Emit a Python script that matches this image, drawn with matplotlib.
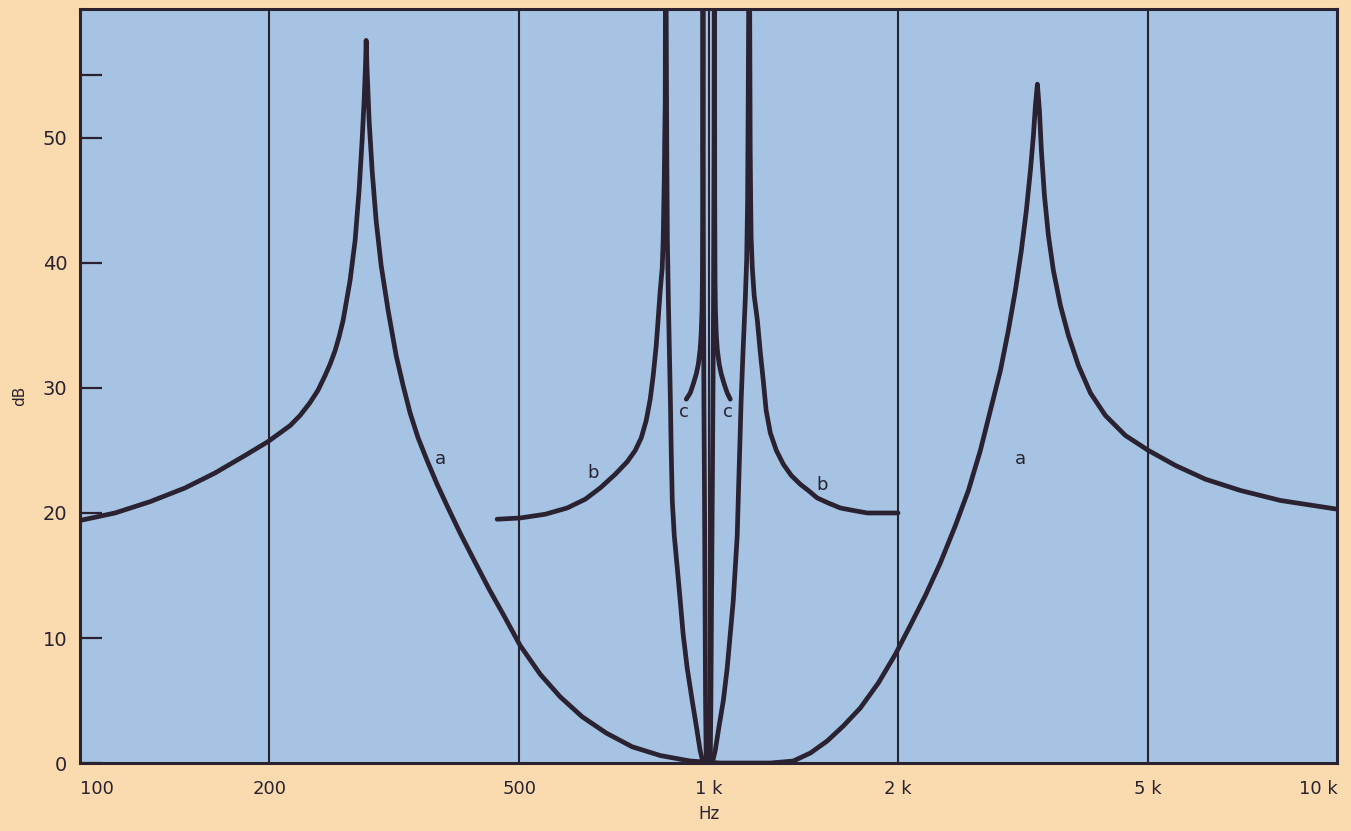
import matplotlib
matplotlib.use("Agg")
import matplotlib.pyplot as plt

# values (frequency in Hz, attenuation in dB)
# curve a : wide band, peaks near 285 Hz and 3.3 kHz
a_freq = [100, 113.7, 129.2, 146.9, 164, 183, 199, 216, 223.9, 232, 239, 245.4,
          249.9, 254.6, 258.3, 262.1, 268.9, 273.9, 277.9, 281, 283.1, 284.7, 285.2,
          286.2, 288.3, 291.5, 295.8, 301.3, 309.1, 318.3, 326.5, 335, 345,
          356.5, 369.8, 385, 402.3, 423.6, 447.5, 474.6, 501.3, 539.5, 580.3,
          629.1, 687, 755.5, 837.2, 934.5, 1043, 1150, 1253,
          1363, 1451, 1543, 1637, 1742, 1861, 1981, 2092, 2211, 2335, 2468, 2588,
          2704, 2805, 2910, 2996, 3074, 3142, 3200, 3248, 3284, 3308, 3332,
          3357, 3381, 3419, 3469, 3533, 3625, 3733, 3872, 4046, 4274, 4599, 5004,
          5525, 6166, 7010, 8115, 10000]
a_db = [19.4, 20.0, 20.9, 22.0, 23.2, 24.6, 25.7, 27.0, 27.8, 28.8, 29.8, 31.0,
        31.9, 33.0, 34.1, 35.4, 38.6, 41.8, 45.8, 49.8, 53.0, 56.2, 57.8,
        55.4, 51.4, 47.4, 43.4, 39.8, 36.2, 32.6, 30.2, 28.0, 26.0,
        24.2, 22.3, 20.4, 18.4, 16.2, 13.9, 11.6, 9.4, 7.1, 5.3,
        3.7, 2.4, 1.3, 0.6, 0.16, 0.0, 0.0, 0.0,
        0.16, 0.8, 1.76, 2.96, 4.4, 6.4, 8.7, 11.0, 13.4, 16.0, 19.0, 21.8,
        25.0, 28.2, 31.4, 34.6, 37.8, 41.0, 44.2, 47.4, 50.2, 52.6, 54.3,
        52.2, 49.0, 45.4, 42.2, 39.4, 36.6, 34.2, 31.8, 29.6, 27.8, 26.2, 25.0,
        23.8, 22.7, 21.8, 21.0, 20.3]

# curve b : 460 Hz to 2 kHz, poles near 854 Hz and 1160 Hz (drawn past the top)
b_freq = [460.7, 501.3, 549.5, 595.5, 636.2, 672, 710.2, 742, 764, 780.9, 795.4,
          807.1, 816, 825.1, 831.2, 837.2, 843.4, 846.5, 849.6, 852.7, 854,
          857.6, 859.4, 862.6, 865.8, 869, 871.6, 875, 881.4, 891.2, 900.8, 910.6,
          924.1, 941.2, 955.2, 969, 979.9, 1000, 1013,
          1024, 1039, 1055, 1070, 1082, 1094, 1102, 1110, 1114, 1120, 1126, 1134,
          1143, 1149, 1153, 1155.5, 1160,
          1164, 1166, 1168, 1173, 1181, 1195, 1207, 1221, 1234, 1253, 1281, 1314,
          1353, 1398, 1440, 1488, 1549, 1619, 1698, 1787, 1875, 2000]
b_db = [19.5, 19.6, 19.9, 20.4, 21.1, 22.0, 23.1, 24.1, 25.0, 26.0, 27.4,
        29.1, 31.0, 33.4, 35.6, 37.8, 39.6, 42.0, 46.6, 53.0, 70.0,
        49.0, 42.0, 37.0, 33.0, 29.0, 25.0, 21.0, 18.2, 15.6, 13.0, 10.3,
        7.6, 5.0, 3.0, 1.0, 0.0, 0.0, 0.0,
        1.0, 3.0, 5.0, 7.6, 10.3, 13.0, 15.6, 18.2, 21.0, 25.0, 29.0, 33.0,
        37.0, 40.2, 45.0, 53.0, 70.0,
        49.0, 45.0, 42.0, 39.6, 37.4, 35.4, 33.0, 30.6, 28.2, 26.4, 25.0, 23.9,
        23.0, 22.3, 21.8, 21.2, 20.8, 20.4, 20.2, 20.0, 20.0, 20.0]

# curve c : narrow band around 1 kHz, poles near 979 Hz and 1021 Hz
c_freq = [921, 934.5, 944.7, 955.2, 962.6, 969.1, 972.6, 975.7, 977, 978.1, 979.2,
          979.9, 981.1, 982.5, 984.7, 986.5, 988.4, 990.9, 1000, 1005.5,
          1008, 1010.3, 1013, 1015.5, 1017.7, 1019.5, 1021,
          1022.2, 1023.3, 1024.8, 1028, 1031.8, 1039, 1047, 1058.5, 1070, 1082]
c_db = [29.1, 29.6, 30.3, 31.1, 31.9, 33.1, 34.3, 36.2, 38.6, 45.0, 70.0,
        49.0, 37.0, 29.0, 21.0, 13.0, 5.0, 0.0, 0.0, 0.0,
        5.0, 13.0, 21.0, 29.0, 37.0, 49.0, 70.0,
        45.0, 38.6, 36.2, 34.3, 33.1, 31.9, 31.1, 30.3, 29.6, 29.1]

grid_freq = [200, 500, 1000, 2000, 5000]
x_ticks = [100, 200, 500, 1000, 2000, 5000, 10000]
x_labels = ['100', '200', '500', '1 k', '2 k', '5 k', '10 k']
y_ticks = [0, 10, 20, 30, 40, 50, 55]
y_labels = ['0', '10', '20', '30', '40', '50', '']

ink = '#2a2230'
plt.rcParams['font.family'] = ['DejaVu Sans']

fig = plt.figure(figsize=(13.51, 8.31), dpi=100, facecolor='#fadbb0')
ax = fig.add_axes([0.0592, 0.0818, 0.9308, 0.9072])
ax.set_facecolor('#a6c3e3')

for f in grid_freq:
    ax.axvline(f, color=ink, lw=1.5, zorder=1)

kw = dict(color=ink, lw=3.4, solid_capstyle='round', solid_joinstyle='round', zorder=3)
ax.plot(a_freq, a_db, **kw)
ax.plot(b_freq, b_db, **kw)
ax.plot(c_freq, c_db, **kw)

lab = dict(color=ink, fontsize=13, ha='center', va='center')
ax.text(374, 24.3, 'a', **lab)
ax.text(3131, 24.3, 'a', **lab)
ax.text(655, 23.2, 'b', **lab)
ax.text(1515, 22.2, 'b', **lab)
ax.text(914, 28.1, 'c', **lab)
ax.text(1074, 28.1, 'c', **lab)

ax.set_xscale('log')
ax.set_xlim(100, 10000)
ax.set_ylim(0, 60.3)
ax.set_xticks(x_ticks)
ax.set_xticklabels(x_labels)
ax.minorticks_off()
ax.set_yticks(y_ticks)
ax.set_yticklabels(y_labels)
ax.tick_params(axis='x', length=0, pad=12, labelsize=13, colors=ink)
ax.tick_params(axis='y', direction='in', length=16, width=1.6, pad=9, labelsize=14, colors=ink)
xl = ax.get_xticklabels()
xl[0].set_ha('left')
xl[-1].set_ha('right')

for s in ax.spines.values():
    s.set_color(ink)
    s.set_linewidth(2.2)

ax.set_ylabel('dB', fontsize=11, color=ink)
ax.yaxis.set_label_coords(-0.042, 29.4 / 60.3)
ax.set_xlabel('Hz', fontsize=12, color=ink, labelpad=5)

fig.savefig('out.png', dpi=100, facecolor=fig.get_facecolor())
